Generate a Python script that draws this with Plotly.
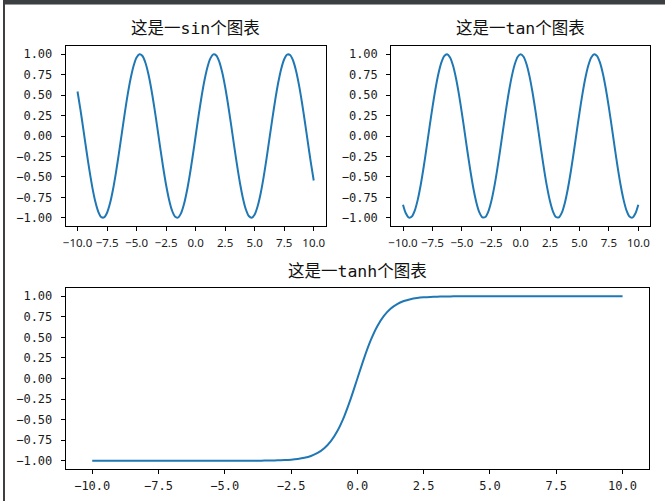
import plotly.graph_objects as go

x_vals = [-10.0, -9.75, -9.5, -9.25, -9.0, -8.75, -8.5, -8.25, -8.0, -7.75, -7.5, -7.25,
          -7.0, -6.75, -6.5, -6.25, -6.0, -5.75, -5.5, -5.25, -5.0, -4.75, -4.5, -4.25,
          -4.0, -3.75, -3.5, -3.25, -3.0, -2.75, -2.5, -2.25, -2.0, -1.75, -1.5, -1.25,
          -1.0, -0.75, -0.5, -0.25, 0.0, 0.25, 0.5, 0.75, 1.0, 1.25, 1.5, 1.75, 2.0, 2.25,
          2.5, 2.75, 3.0, 3.25, 3.5, 3.75, 4.0, 4.25, 4.5, 4.75, 5.0, 5.25, 5.5, 5.75,
          6.0, 6.25, 6.5, 6.75, 7.0, 7.25, 7.5, 7.75, 8.0, 8.25, 8.5, 8.75, 9.0, 9.25,
          9.5, 9.75, 10.0]

sin_vals = [0.5440, 0.3195, 0.0752, -0.1743, -0.4121, -0.6247, -0.7985, -0.9228, -0.9894,
            -0.9946, -0.9380, -0.8231, -0.6570, -0.4500, -0.2151, 0.0332, 0.2794, 0.5083,
            0.7055, 0.8589, 0.9589, 0.9993, 0.9775, 0.8950, 0.7568, 0.5716, 0.3508, 0.1082,
            -0.1411, -0.3817, -0.5985, -0.7781, -0.9093, -0.9840, -0.9975, -0.9490, -0.8415,
            -0.6816, -0.4794, -0.2474, 0.0,
            0.2474, 0.4794, 0.6816, 0.8415, 0.9490, 0.9975, 0.9840, 0.9093, 0.7781, 0.5985,
            0.3817, 0.1411, -0.1082, -0.3508, -0.5716, -0.7568, -0.8950, -0.9775, -0.9993,
            -0.9589, -0.8589, -0.7055, -0.5083, -0.2794, -0.0332, 0.2151, 0.4500, 0.6570,
            0.8231, 0.9380, 0.9946, 0.9894, 0.9228, 0.7985, 0.6247, 0.4121, 0.1743, -0.0752,
            -0.3195, -0.5440]

tan_vals = [-0.8391, -0.9477, -0.9972, -0.9847, -0.9111, -0.7807, -0.6020, -0.3854, -0.1455,
            0.1043, 0.3466, 0.5679, 0.7539, 0.8930, 0.9766, 0.9994, 0.9602, 0.8612, 0.7087,
            0.5121, 0.2837, 0.0376, -0.2108, -0.4461, -0.6536, -0.8206, -0.9365, -0.9941,
            -0.9900, -0.9243, -0.8011, -0.6282, -0.4161, -0.1782, 0.0707, 0.3153, 0.5403,
            0.7317, 0.8776, 0.9689, 1.0,
            0.9689, 0.8776, 0.7317, 0.5403, 0.3153, 0.0707, -0.1782, -0.4161, -0.6282,
            -0.8011, -0.9243, -0.9900, -0.9941, -0.9365, -0.8206, -0.6536, -0.4461, -0.2108,
            0.0376, 0.2837, 0.5121, 0.7087, 0.8612, 0.9602, 0.9994, 0.9766, 0.8930, 0.7539,
            0.5679, 0.3466, 0.1043, -0.1455, -0.3854, -0.6020, -0.7807, -0.9111, -0.9847,
            -0.9972, -0.9477, -0.8391]

tanh_vals = [-1.0, -1.0, -1.0, -1.0, -1.0, -1.0, -1.0, -1.0, -1.0, -1.0, -1.0, -1.0, -1.0,
             -1.0, -1.0, -1.0, -1.0, -1.0, -1.0, -1.0, -0.9999, -0.9999, -0.9998, -0.9996,
             -0.9993, -0.9989, -0.9982, -0.9970, -0.9951, -0.9919, -0.9866, -0.9780, -0.9640,
             -0.9414, -0.9051, -0.8483, -0.7616, -0.6351, -0.4621, -0.2449, 0.0,
             0.2449, 0.4621, 0.6351, 0.7616, 0.8483, 0.9051, 0.9414, 0.9640, 0.9780, 0.9866,
             0.9919, 0.9951, 0.9970, 0.9982, 0.9989, 0.9993, 0.9996, 0.9998, 0.9999, 0.9999,
             1.0, 1.0, 1.0, 1.0, 1.0, 1.0, 1.0, 1.0, 1.0, 1.0, 1.0, 1.0, 1.0, 1.0, 1.0, 1.0,
             1.0, 1.0, 1.0, 1.0]

titles = ["这是一sin个图表", "这是一tan个图表", "这是一tanh个图表"]
x_ticks = [-10.0, -7.5, -5.0, -2.5, 0.0, 2.5, 5.0, 7.5, 10.0]
y_ticks = [-1.0, -0.75, -0.5, -0.25, 0.0, 0.25, 0.5, 0.75, 1.0]

W, H = 665, 501
LINE = "#1f77b4"
TICKFONT = dict(family="DejaVu Sans Mono, Noto Sans CJK SC", size=12, color="#1a1a1a")
SMALL_XTICKFONT = dict(family="Noto Sans, DejaVu Sans", size=11.5, color="#1a1a1a")
TITLEFONT = dict(family="DejaVu Sans Mono, Noto Sans CJK SC", size=16.5, color="#111111")

fig = go.Figure()
series = [sin_vals, tan_vals, tanh_vals]
for i, ys in enumerate(series):
    sfx = "" if i == 0 else str(i + 1)
    fig.add_trace(go.Scatter(x=x_vals, y=ys, mode="lines",
                             line=dict(color=LINE, width=2, shape="spline", smoothing=0.8),
                             xaxis="x" + sfx, yaxis="y" + sfx, showlegend=False,
                             hoverinfo="skip"))

def px_x(p):
    return p / W

def px_y(p):
    return 1 - p / H

domains = [
    ((63, 324), (46, 226)),
    ((390, 650), (46, 226)),
    ((63, 649), (288, 469)),
]

axis_common = dict(showline=True, mirror=True, linecolor="black", linewidth=1,
                   ticks="outside", ticklen=4, tickwidth=1, tickcolor="black",
                   showgrid=False, zeroline=False, tickangle=0)

layout = dict(width=W, height=H, margin=dict(l=0, r=0, t=0, b=0),
              paper_bgcolor="white", plot_bgcolor="white", showlegend=False)

annotations = []
for i, ((x0, x1), (y0, y1)) in enumerate(domains):
    sfx = "" if i == 0 else str(i + 1)
    xfont = SMALL_XTICKFONT if i < 2 else TICKFONT
    layout["xaxis" + sfx] = dict(axis_common, domain=[px_x(x0), px_x(x1)], range=[-11, 11],
                                 tickvals=x_ticks, tickformat=".1f", anchor="y" + sfx,
                                 ticklabelstandoff=2, tickfont=xfont)
    layout["yaxis" + sfx] = dict(axis_common, domain=[px_y(y1), px_y(y0)], range=[-1.1, 1.1],
                                 tickvals=y_ticks, tickformat=".2f", anchor="x" + sfx,
                                 ticklabelstandoff=6, tickfont=TICKFONT)
    annotations.append(dict(text=titles[i], xref="paper", yref="paper",
                            x=px_x((x0 + x1) / 2), y=px_y(y0 - 17), xanchor="center",
                            yanchor="middle", showarrow=False, font=TITLEFONT))

layout["annotations"] = annotations
layout["shapes"] = [
    dict(type="rect", xref="paper", yref="paper", x0=0, x1=1, y0=px_y(4), y1=1,
         fillcolor="#3c3f41", line=dict(width=0), layer="above"),
    dict(type="rect", xref="paper", yref="paper", x0=0, x1=1, y0=px_y(5), y1=px_y(4),
         fillcolor="#9a9a9a", line=dict(width=0), layer="above"),
    dict(type="rect", xref="paper", yref="paper", x0=0, x1=px_x(2), y0=0, y1=1,
         fillcolor="#3c3f41", line=dict(width=0), layer="above"),
]

fig.update_layout(**layout)
fig.write_html("out.html", config={"displayModeBar": False},
               post_script="document.body.style.margin='0';document.body.style.overflow='hidden';")
